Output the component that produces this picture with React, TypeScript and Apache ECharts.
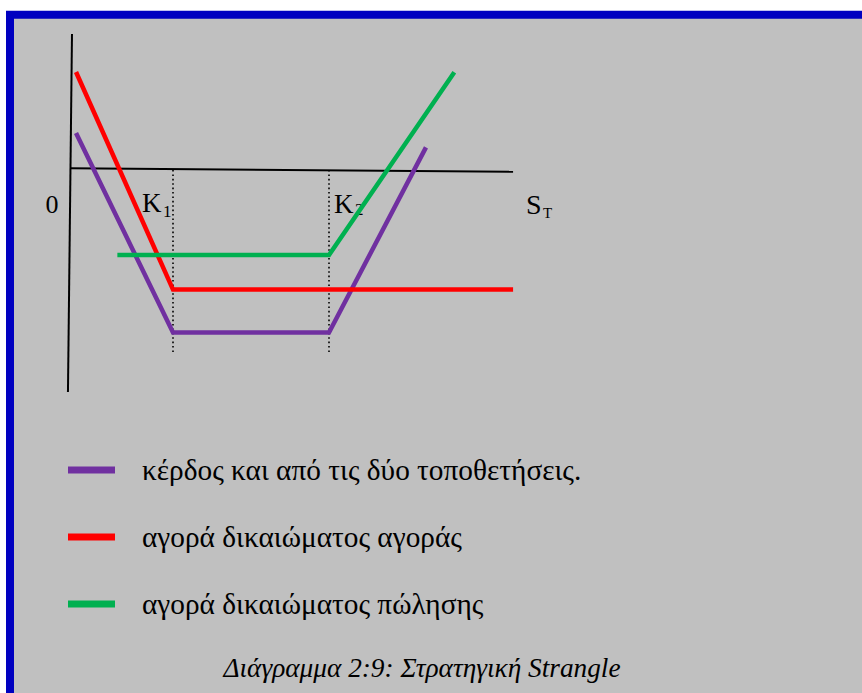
import React, { useEffect, useRef } from "react";
import * as echarts from "echarts";

// Strike prices on the S_T axis
const strikes: number[] = [40, 100];
const strikeLabels: string[] = ["1", "2"];

// Payoff profiles as [S_T, profit] vertices
const combinedPayoff: [number, number][] = [
  [2.7, 14.2],
  [40, -62.5],
  [100, -62.5],
  [137.3, 8.7],
];
const callLegPayoff: [number, number][] = [
  [2.7, 37.7],
  [40, -46],
  [170.8, -46],
];
const putLegPayoff: [number, number][] = [
  [18.6, -32.7],
  [100, -32.7],
  [148.2, 37.6],
];

// Hand-drawn axis strokes
const profitAxis: [number, number][] = [
  [1.15, 52.3],
  [-0.4, -85.4],
];
const priceAxis: [number, number][] = [
  [0.4, 0.65],
  [170.8, -0.65],
];
const strikeGuideDepth = -70;

const seriesNames: string[] = [
  "κέρδος και από τις δύο τοποθετήσεις.",
  "αγορά δικαιώματος αγοράς",
  "αγορά δικαιώματος πώλησης",
];
const seriesColors: string[] = ["#7030A0", "#FF0000", "#00B050"];
const caption = "Διάγραμμα 2:9: Στρατηγική Strangle";

const SERIF = "Liberation Serif";

export default function App() {
  const ref = useRef<HTMLDivElement>(null);

  useEffect(() => {
    if (!ref.current) return;
    const chart = echarts.init(ref.current, undefined, { renderer: "svg" });

    const payoffLine = (name: string, data: [number, number][], color: string) => ({
      name,
      type: "line",
      data,
      color,
      symbol: "none",
      clip: false,
      silent: true,
      itemStyle: { color },
      lineStyle: { color, width: 4.5, join: "miter", cap: "butt" },
      z: 5,
    });

    const blackLine = (data: [number, number][], extra: any = {}) => ({
      type: "line",
      data,
      symbol: "none",
      clip: false,
      silent: true,
      lineStyle: { color: "#000", width: 2, ...extra },
      z: 3,
    });

    const strikeGuides = strikes.map((k) =>
      blackLine(
        [
          [k, 0],
          [k, strikeGuideDepth],
        ],
        { width: 1.6, type: [1.6, 2.8] }
      )
    );

    const t = (text: string, x: number, y: number, fontSize: number, extra: any = {}) => ({
      type: "text",
      x,
      y,
      style: {
        text,
        fill: "#000",
        fontFamily: SERIF,
        fontSize,
        fontStyle: extra.fontStyle || "normal",
        align: extra.align || "left",
        verticalAlign: "middle",
      },
    });

    chart.setOption({
      animation: false,
      backgroundColor: "#FFFFFF",
      grid: { left: 43, top: 14, width: 806, height: 390 },
      xAxis: { type: "value", min: -10, max: 300, show: false },
      yAxis: { type: "value", min: -90, max: 60, show: false },
      legend: {
        orient: "vertical",
        left: 68,
        top: 455,
        padding: 0,
        data: seriesNames,
        icon: "rect",
        itemWidth: 47,
        itemHeight: 7,
        itemGap: 37,
        selectedMode: false,
        textStyle: {
          fontFamily: SERIF,
          fontSize: 29.3,
          color: "#000",
          lineHeight: 30,
          padding: [0, 0, 0, 22],
        },
      },
      graphic: [
        { type: "rect", shape: { x: 6, y: 10.7, width: 856, height: 683 }, style: { fill: "#0000C0" } },
        { type: "rect", shape: { x: 14, y: 18.7, width: 848, height: 675 }, style: { fill: "#C0C0C0" } },
        t("0", 52, 204.5, 26, { align: "center" }),
        t("K", 142, 203, 27),
        t(strikeLabels[0], 163, 211, 17),
        t("K", 334, 203.5, 27),
        t(strikeLabels[1], 355, 209.5, 17),
        t("S", 526, 204.5, 28),
        t("T", 543, 213, 15),
        t(caption, 422, 668, 27.3, { align: "center", fontStyle: "italic" }),
      ],
      series: [
        blackLine(profitAxis),
        blackLine(priceAxis),
        ...strikeGuides,
        payoffLine(seriesNames[0], combinedPayoff, seriesColors[0]),
        payoffLine(seriesNames[1], callLegPayoff, seriesColors[1]),
        payoffLine(seriesNames[2], putLegPayoff, seriesColors[2]),
      ],
    });

    return () => chart.dispose();
  }, []);

  return (
    <div
      ref={ref}
      style={{ position: "absolute", left: 0, top: 0, width: 862, height: 693 }}
    />
  );
}
